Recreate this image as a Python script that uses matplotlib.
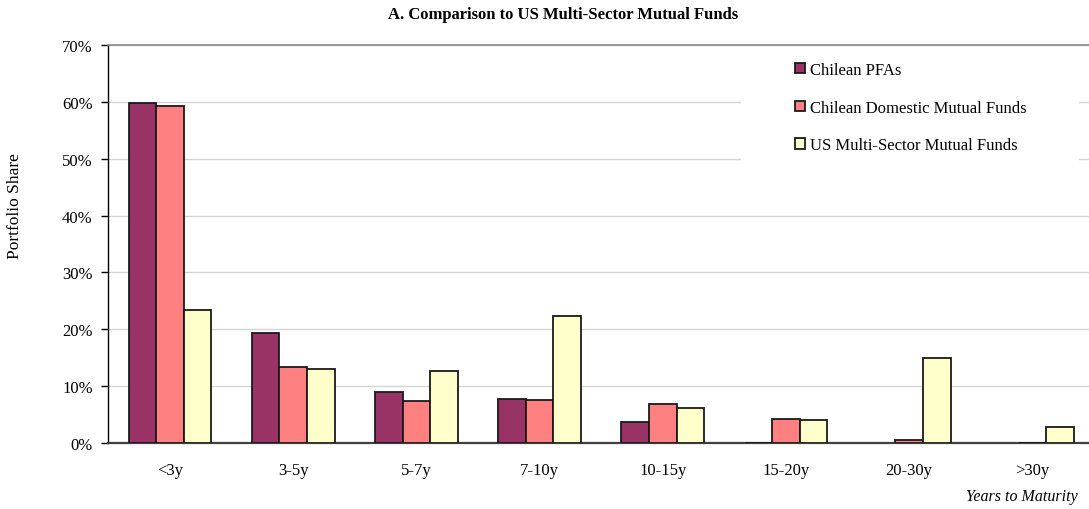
import matplotlib
matplotlib.use("Agg")
import matplotlib.pyplot as plt
import numpy as np
from matplotlib.patches import Rectangle

categories = ["<3y", "3-5y", "5-7y", "7-10y", "10-15y", "15-20y", "20-30y", ">30y"]
series_names = ["Chilean PFAs", "Chilean Domestic Mutual Funds", "US Multi-Sector Mutual Funds"]
pfa = [59.8, 19.3, 8.9, 7.7, 3.7, 0.0, np.nan, np.nan]
domestic = [59.3, 13.4, 7.4, 7.6, 6.9, 4.2, 0.6, 0.0]
us_multi = [23.4, 13.0, 12.7, 22.3, 6.1, 4.0, 14.9, 2.8]
yticks = [0, 10, 20, 30, 40, 50, 60, 70]
colors = ["#993366", "#FF8080", "#FFFFCC"]

plt.rcParams['font.family'] = ['Liberation Serif', 'DejaVu Serif']

W, H = 1089, 510
fig = plt.figure(figsize=(W / 100, H / 100), dpi=100)
ax = fig.add_axes([108 / W, 1 - 444 / H, (1089 - 108) / W, (444 - 46) / H])

x = np.arange(len(categories))
bw = 0.224
for i, (vals, c, name) in enumerate(zip([pfa, domestic, us_multi], colors, series_names)):
    ax.bar(x + (i - 1) * bw, vals, width=bw, color=c, edgecolor="#1a1a1a",
           linewidth=1.3, label=name, zorder=3)

ax.set_xlim(-0.504, 7.46)
ax.set_ylim(0, 70)
ax.set_yticks(yticks)
ax.set_yticklabels([f"{t}%" for t in yticks], fontsize=12)
ax.set_xticks(x)
ax.set_xticklabels(categories, fontsize=12)
ax.tick_params(axis='x', length=0, pad=14)
ax.tick_params(axis='y', length=5, width=1, direction='out', pad=6)

ax.set_axisbelow(True)
ax.yaxis.grid(True, color="#d4d4d4", linewidth=1)
ax.spines['right'].set_visible(False)
ax.spines['top'].set_color("#888888")
ax.spines['top'].set_linewidth(1.2)
ax.spines['left'].set_color("#000000")
ax.spines['left'].set_linewidth(1)
ax.spines['bottom'].set_color("#404040")
ax.spines['bottom'].set_linewidth(1.6)

# white legend area covering gridlines
ax.add_patch(Rectangle((741 / W, 1 - 190 / H), (1079 - 741) / W, (190 - 50) / H,
                       transform=fig.transFigure, facecolor="white", edgecolor="none",
                       zorder=1))

leg = fig.legend(loc="upper left", bbox_to_anchor=(795 / W, 1 - 63 / H),
                 frameon=False, fontsize=12, handlelength=0.6, handleheight=0.6,
                 handletextpad=0.3, labelspacing=1.3, borderaxespad=0, borderpad=0)

fig.text(563 / W, 1 - 15 / H, "A. Comparison to US Multi-Sector Mutual Funds",
         ha="center", va="center", fontsize=12, fontweight="bold")
fig.text(15 / W, 1 - 206 / H, "Portfolio Share", rotation=90, ha="center", va="center",
         fontsize=12.5)
fig.text(1078 / W, 1 - 497 / H, "Years to Maturity", ha="right", va="center",
         fontsize=11.5, style="italic")

fig.savefig("out.png", dpi=100)
